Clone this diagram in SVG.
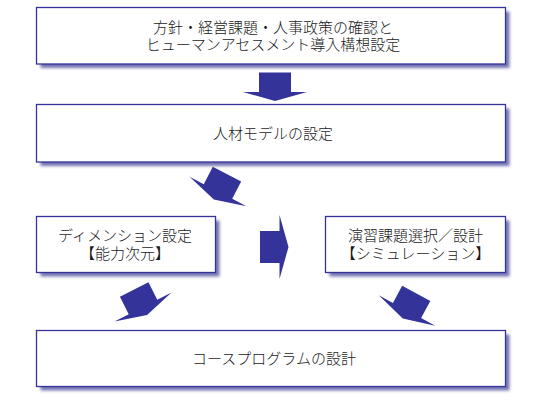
<svg xmlns="http://www.w3.org/2000/svg" width="550" height="400" viewBox="0 0 550 400">
  <defs>
    <filter id="blur" x="-10%" y="-20%" width="120%" height="140%">
      <feGaussianBlur stdDeviation="1.8"/>
    </filter>
    <path id="arrow" d="M-16,-19.5 H16 V0 H32 L0,9 L-32,0 H-16 Z"/>
  </defs>
  <style>
    .shadow { fill: #5c5ca6; opacity: 0.85; filter: url(#blur); }
    .box { fill: #ffffff; stroke: #333399; stroke-width: 1.3; }
    .label { font-family: "Liberation Sans", "Noto Sans CJK JP", sans-serif; font-size: 15px; font-weight: 300; fill: #1a1a1a; text-anchor: middle; }
    .arrow { fill: #333399; }
  </style>
  <rect width="550" height="400" fill="#ffffff"/>

  <g id="node-policy">
    <rect class="shadow" x="40.5" y="11.5" width="469" height="56.5"/>
    <rect class="box" x="36.5" y="7.5" width="469" height="56.5"/>
    <text class="label"><tspan x="273" y="32.8">方針・経営課題・人事政策の確認と</tspan><tspan x="273" y="49.9">ヒューマンアセスメント導入構想設定</tspan></text>
  </g>

  <g id="node-model">
    <rect class="shadow" x="40.5" y="108.5" width="469" height="57.5"/>
    <rect class="box" x="36.5" y="104.5" width="469" height="57.5"/>
    <text class="label" x="273" y="138.8">人材モデルの設定</text>
  </g>

  <g id="node-dimension">
    <rect class="shadow" x="40.5" y="220.5" width="179" height="56"/>
    <rect class="box" x="36.5" y="216.5" width="179" height="56"/>
    <text class="label"><tspan x="125" y="241.3">ディメンション設定</tspan><tspan x="125" y="258.5">【能力次元】</tspan></text>
  </g>

  <g id="node-exercise">
    <rect class="shadow" x="329.5" y="220.5" width="180" height="56"/>
    <rect class="box" x="325.5" y="216.5" width="180" height="56"/>
    <text class="label"><tspan x="415.5" y="241.3">演習課題選択／設計</tspan><tspan x="415.5" y="258.5">【シミュレーション】</tspan></text>
  </g>

  <g id="node-course">
    <rect class="shadow" x="40.5" y="334.5" width="469" height="56"/>
    <rect class="box" x="36.5" y="330.5" width="469" height="56"/>
    <text class="label" x="274" y="363.7">コースプログラムの設計</text>
  </g>

  <g id="connectors">
    <use href="#arrow" class="arrow" transform="translate(275,92)"/>
    <use href="#arrow" class="arrow" transform="translate(218,191.5) rotate(27.4)"/>
    <use href="#arrow" class="arrow" transform="translate(279.5,247) rotate(-90)"/>
    <use href="#arrow" class="arrow" transform="translate(143,307) rotate(-26.9)"/>
    <use href="#arrow" class="arrow" transform="translate(407,310.5) rotate(28.3)"/>
  </g>
</svg>
